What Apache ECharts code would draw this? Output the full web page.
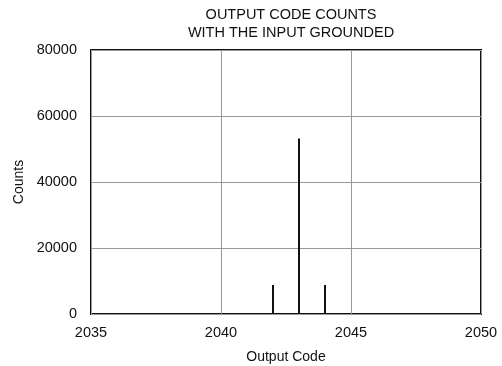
<!DOCTYPE html>
<html>
<head>
<meta charset="utf-8">
<script src="https://cdn.jsdelivr.net/npm/echarts@6/dist/echarts.min.js"></script>
<style>html,body{margin:0;padding:0;background:#fff}#c{width:502px;height:366px}</style>
</head>
<body>
<div id="c"></div>
<script>
const titleLines = ["OUTPUT CODE COUNTS", "WITH THE INPUT GROUNDED"];
const codes = [2042, 2043, 2044];
const counts = [8800, 53200, 8800];
const xName = "Output Code";
const yName = "Counts";

const chart = echarts.init(document.getElementById('c'));
const font = '"Liberation Sans", Arial, sans-serif';
chart.setOption({
  animation: false,
  backgroundColor: '#fff',
  title: {
    text: titleLines.join('\n'),
    left: 286, top: 1, textAlign: 'center',
    textStyle: { fontFamily: font, fontSize: 14.5, fontWeight: 'normal', color: '#111', lineHeight: 18 }
  },
  grid: { left: 91, right: 21, top: 50, bottom: 52, show: true, borderColor: '#111', borderWidth: 2,
          containLabel: false, outerBoundsMode: 'none' },
  xAxis: {
    type: 'value', min: 2035, max: 2050, interval: 5,
    name: xName, nameLocation: 'middle', nameGap: 36,
    nameTextStyle: { fontFamily: font, fontSize: 14, color: '#111' },
    axisLine: { show: false }, axisTick: { show: false },
    axisLabel: { fontFamily: font, fontSize: 14.5, color: '#111', margin: 11, formatter: v => String(v) },
    splitLine: { show: true, lineStyle: { color: '#999', width: 1 } }
  },
  yAxis: {
    type: 'value', min: 0, max: 80000, interval: 20000,
    name: yName, nameLocation: 'middle', nameGap: 63,
    nameTextStyle: { fontFamily: font, fontSize: 14, color: '#111' },
    axisLine: { show: false }, axisTick: { show: false },
    axisLabel: { fontFamily: font, fontSize: 14.5, color: '#111', margin: 14, formatter: v => String(v) },
    splitLine: { show: true, lineStyle: { color: '#999', width: 1 } }
  },
  series: [{
    type: 'bar',
    data: codes.map((c, i) => [c, counts[i]]),
    barWidth: 2,
    itemStyle: { color: '#111' }
  }]
});
</script>
</body>
</html>
